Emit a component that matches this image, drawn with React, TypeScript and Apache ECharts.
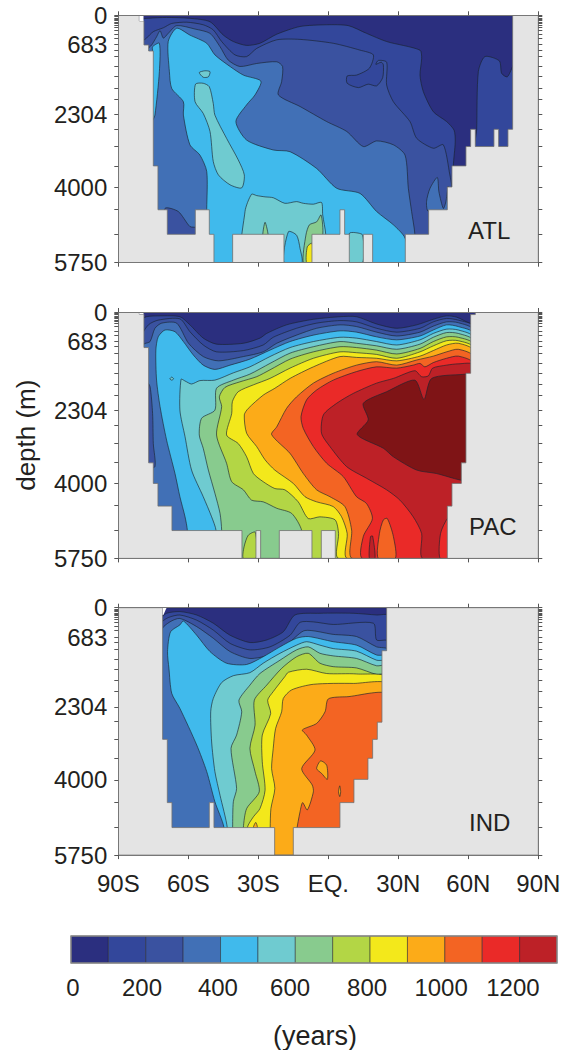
import React, { useEffect, useRef } from "react";
import * as echarts from "echarts";

type Pt = [number, number];

const LEVEL_COLORS = ["#2b2f7f", "#33479b", "#3a52a0", "#4170b6", "#40baec", "#6fcbd0", "#88cb8e", "#b3d645", "#f3e81b", "#fcab18", "#f36423", "#ea2a28", "#bd2127", "#7f1416"];
const COLORBAR_EDGES = [0, 100, 200, 300, 400, 500, 600, 700, 800, 900, 1000, 1100, 1200, 1300];
const COLORBAR_LABEL_ANCHORS = [5, 190, 393, 586, 792, 990, 1182];
const LAT_LABELS: Record<string, string> = { "-90": "90S", "-60": "60S", "-30": "30S", "0": "EQ.", "30": "30N", "60": "60N", "90": "90N" };
const DEPTH_LABELS = [0, 683, 2304, 4000, 5750];
const DEPTH_TICKS = [0, 31, 62, 93, 124, 155, 186, 225, 271, 341, 442, 535, 683, 806, 961, 1194, 1426, 1697, 1953, 2304, 2650, 3054, 3503, 4000, 4518, 5092, 5750];
const WHOLE: Pt[] = [[-90, 0], [90, 0], [90, 5750], [-90, 5750]];

// ---------- Atlantic ----------
const ATL_FLOOR: Pt[] = [[-90,0],[-81,0],[-81,130],[-79,130],[-79,690],[-77,690],[-77,830],[-75,830],[-75,3500],[-73,3500],[-73,4520],[-69,4520],[-69,5090],[-57,5090],[-57,4520],[-51,4520],[-51,5090],[-49,5090],[-49,5750],[-41,5750],[-41,5090],[-19,5090],[-19,5750],[-7,5750],[-7,5090],[5,5090],[5,4520],[7,4520],[7,5090],[9,5090],[9,5750],[15,5750],[15,5090],[19,5090],[19,5750],[33,5750],[33,5090],[43,5090],[43,4520],[51,4520],[51,3990],[53,3990],[53,3500],[59,3500],[59,3050],[61,3050],[61,2650],[63,2650],[63,3050],[71,3050],[71,2650],[73,2650],[73,3050],[77,3050],[77,2650],[79,2650],[79,0],[90,0],[90,5750],[-90,5750]];
const ATL_NOTCH: Pt[] = [[-81,0],[-79.2,0],[-79.2,130],[-81,130]];
const ATL_L1: Pt[] = [[-80,110],[-77.1,70],[-69.3,50],[-59.3,70],[-50.7,150],[-45,460],[-40.7,610],[-35,700],[-29.3,650],[-22.1,440],[-12.1,260],[-0.7,220],[8.6,240],[16.4,420],[25,610],[39.3,810],[40,1000],[39.3,1390],[40.7,1770],[45,2240],[50.7,2470],[53.9,2670],[54.4,2940],[53.6,3500],[53.6,5750],[-80,5750]];
const ATL_L1_NORTH: Pt[] = [[63.3,3170],[63.6,2650],[64.3,1310],[67.1,960],[73.3,1060],[74.3,1350],[76.7,1430],[79,1190],[80,1080],[80,3170]];
const ATL_L2: Pt[] = [[-80.7,670],[-77.9,530],[-75,380],[-70.7,290],[-67.1,190],[-60.7,160],[-53.6,220],[-49.3,340],[-45.7,610],[-40,920],[-35,960],[-30.7,770],[-22.1,570],[-12.1,560],[2.1,650],[13.6,810],[19.3,920],[17.6,1230],[12.1,1390],[8.1,1410],[8.1,1580],[12.9,1680],[17.1,1600],[20.7,1640],[23.3,1450],[23.6,1150],[22.7,1090],[20.4,1140],[21.4,1050],[25,1090],[25,1620],[27.9,2010],[35,2470],[37.9,2860],[45,3090],[49.3,3010],[52.1,3710],[52.9,3980],[52.1,4560],[52.1,5750],[-80.7,5750]];
const ATL_L3: Pt[] = [[-77.9,830],[-75.7,690],[-73.6,500],[-72.1,360],[-70.7,530],[-68.6,420],[-65,240],[-57.1,320],[-50.7,420],[-46.4,730],[-42.9,1040],[-37.9,1190],[-30.7,1120],[-22.1,1080],[-19.6,1190],[-20,1540],[-21.4,1850],[-12.1,2120],[-0.7,2470],[7.9,2700],[15,3050],[20.7,2920],[27.9,3010],[32.9,3250],[34.3,4020],[35.7,4560],[37.1,5090],[37.1,5750],[-77.9,5750]];
const ATL_L2_SW: Pt[] = [[-70,4490],[-64.3,4560],[-59.3,4910],[-56.4,4940],[-56.4,5180],[-70,5180]];
const ATL_L3_NE: Pt[] = [[42.1,4330],[43.6,4020],[46.7,3770],[47.4,4100],[49.3,4490],[50.4,4330],[51.4,3980],[52.1,4560],[42.9,4560]];
const ATL_L4_WEST: Pt[] = [[-75.3,830],[-75.3,730],[-72.4,650],[-72.4,1310],[-74.3,2320],[-75.3,2430]];
const ATL_L4: Pt[] = [[-68.6,610],[-65,300],[-59.3,460],[-52.1,650],[-48.6,920],[-42.1,1190],[-36.4,1390],[-28.9,1530],[-31.4,1850],[-35,2080],[-39.6,2470],[-35,2900],[-23.6,3130],[-16.4,3170],[-5,3560],[3.6,4020],[13.6,4140],[20.7,4560],[27.9,4870],[32.9,5180],[33.6,5750],[-52.4,5750],[-52.1,4490],[-52.1,3630],[-55,3250],[-59.3,3010],[-62.1,2320],[-62.1,2010],[-67.1,1700],[-68.1,1310]];
const ATL_L5_A: Pt[] = [[-55.3,1330],[-52.9,1290],[-50.7,1310],[-51.4,1430],[-53.6,1440]];
const ATL_L5_B: Pt[] = [[-56.9,1600],[-53.6,1580],[-51,1660],[-49.3,2050],[-48.6,2320],[-43.6,2860],[-38.6,3360],[-36,3710],[-37.1,4010],[-42.1,3940],[-47.1,3710],[-49.3,3400],[-50.7,2700],[-53.6,2280],[-57.1,2010]];
const ATL_L5_C: Pt[] = [[-36,5750],[-35.7,4560],[-32.9,4160],[-30.7,4190],[-27.1,4220],[-23.6,4240],[-18.6,4370],[-13.6,4330],[-10.7,4370],[-6.4,4390],[-2.9,4350],[-2.4,4640],[-1.1,5090],[-1.1,5750]];
const ATL_L5_D: Pt[] = [[9,5750],[9,5070],[11.4,5050],[14.7,5110],[14.7,5750]];
const ATL_L4_DEEP: Pt[] = [[-19,5750],[-17.1,5030],[-13.6,5110],[-12.1,5420],[-11.4,5750]];
const ATL_L6_A: Pt[] = [[-28.1,5180],[-27.1,4810],[-25.7,5180]];
const ATL_L6_B: Pt[] = [[-10.7,5750],[-9.6,5110],[-8.1,4870],[-5,4800],[-3.1,4640],[-2.4,5110],[-6.4,5750]];
const ATL_L8: Pt[] = [[-9.3,5750],[-9,5380],[-7,5300],[-6.4,5750]];

// ---------- Pacific ----------
const PAC_FLOOR: Pt[] = [[-90,0],[-81,0],[-81,50],[-79,50],[-79,830],[-77,830],[-77,3520],[-75,3520],[-75,4000],[-73,4000],[-73,4530],[-67,4530],[-67,5100],[-37,5100],[-37,5750],[-31,5750],[-31,5100],[-29,5100],[-29,5750],[-21,5750],[-21,5100],[-7,5100],[-7,5750],[-3,5750],[-3,5100],[3,5100],[3,5750],[51,5750],[51,4530],[53,4530],[53,4000],[57,4000],[57,3520],[59,3520],[59,1430],[61,1430],[61,60],[63,60],[63,0],[90,0],[90,5750],[-90,5750]];
const PAC_NOTCH: Pt[] = [[-81,0],[-79.2,0],[-79.2,50],[-81,50]];
const PAC_L1: Pt[] = [[-80,190],[-77.9,110],[-72.1,90],[-63.6,110],[-59.3,300],[-53.6,610],[-47.9,750],[-36.4,730],[-29.3,610],[-26.4,500],[-17.9,300],[-6.4,170],[5,110],[12.1,110],[20.7,280],[29.3,380],[37.9,300],[45,170],[50.7,90],[55,120],[60.4,260],[62.1,300],[62.1,5750],[-80,5750]];
const PAC_L2: Pt[] = [[-80,580],[-77.1,300],[-72.9,190],[-63.6,160],[-59.3,460],[-53.6,770],[-47.9,930],[-36.4,900],[-27.9,770],[-23.6,590],[-13.6,380],[-5,260],[5,200],[12.1,230],[20.7,380],[29.3,470],[39.3,380],[45,230],[50.7,150],[55.7,190],[62.1,340],[62.1,5750],[-80,5750]];
const PAC_L3: Pt[] = [[-79.3,770],[-76.4,690],[-74.3,380],[-71.4,260],[-65,260],[-59.9,730],[-53.6,1040],[-47.1,1140],[-36.4,1040],[-27.9,930],[-22.1,730],[-13.6,540],[-5,380],[5,300],[12.1,340],[20.7,470],[29.3,560],[39.3,470],[45,330],[50.7,230],[55.7,250],[62.1,420],[62.1,5750],[-79.3,5750]];
const PAC_L2_WEST: Pt[] = [[-77.9,1630],[-76.4,1740],[-75.3,2370],[-75,3070],[-74.3,3610],[-77.9,3610]];
const PAC_L4: Pt[] = [[-73.9,890],[-72.9,580],[-70,420],[-65.7,460],[-62.1,690],[-57.9,1000],[-53.6,1240],[-48.6,1340],[-42.1,1240],[-33.6,1100],[-25,890],[-16.4,690],[-6.4,540],[5,440],[12.1,470],[20.7,580],[29.3,650],[39.3,560],[45,420],[50.7,300],[55.7,340],[62.1,500],[62.1,5750],[-60.4,5750],[-60.4,5100],[-61.4,4780],[-63.6,4310],[-65.7,3770],[-69.3,2990],[-72.1,2210],[-73.6,1590]];
const PAC_L5: Pt[] = [[-63.1,1570],[-61.4,1610],[-58.6,1680],[-55,1600],[-48.6,1590],[-40.7,1420],[-33.6,1280],[-25,1040],[-16.4,830],[-6.4,690],[5,590],[12.1,610],[20.7,690],[29.3,770],[39.3,650],[45,500],[50.7,400],[55.7,420],[62.1,590],[62.1,5750],[-48.1,5750],[-48.1,5100],[-50,4780],[-53.6,4310],[-58.6,3690],[-61.4,2910],[-63.6,2290]];
const PAC_L6: Pt[] = [[-45.7,5750],[-45.7,5100],[-46.4,4700],[-48.6,4230],[-51.4,3690],[-53.6,3180],[-55.3,2870],[-54.3,2480],[-48.6,2290],[-47.9,1780],[-40.7,1590],[-33.6,1450],[-25,1200],[-16.4,960],[-6.4,810],[5,690],[12.1,730],[20.7,790],[29.3,870],[39.3,750],[45,590],[50.7,480],[55.7,500],[62.1,670],[62.1,5750]];
const PAC_L7: Pt[] = [[-11.4,5750],[-11.4,5100],[-15.7,4700],[-22.1,4580],[-27.9,4430],[-32.9,4390],[-36.4,4150],[-41.4,3960],[-43.6,3530],[-47.9,2870],[-45.7,2210],[-46.7,1980],[-44.3,1760],[-37.9,1630],[-30.7,1510],[-25,1350],[-16.4,1100],[-6.4,930],[5,810],[12.1,830],[20.7,890],[29.3,980],[39.3,850],[45,690],[50.7,580],[55.7,590],[62.1,750],[62.1,5750]];
const PAC_L7_DEEP: Pt[] = [[-36.4,5750],[-36.1,5480],[-34.3,5210],[-31.3,5140],[-31,5750]];
const PAC_L8: Pt[] = [[4.4,5750],[4.4,5170],[2.9,4850],[-3.6,4780],[-8.6,4820],[-12.9,4430],[-18.6,4150],[-22.9,4120],[-27.9,3960],[-32.1,3770],[-35,3380],[-38.6,3070],[-43.6,2870],[-41.4,2370],[-41.1,2090],[-38.6,1860],[-32.1,1700],[-25,1550],[-16.4,1310],[-6.4,1080],[5,930],[12.1,950],[20.7,990],[29.3,1080],[39.3,930],[45,790],[50.7,670],[55.7,670],[62.1,830],[62.1,5750]];
const PAC_L9: Pt[] = [[8.1,5750],[8.1,5170],[5.7,4780],[2.1,4540],[-5,4430],[-10,4310],[-15,4000],[-22.9,3690],[-27.1,3450],[-30.7,3140],[-35,2830],[-36,2400],[-34.3,2250],[-27.9,1940],[-22.9,1780],[-16.4,1550],[-6.4,1280],[5,1040],[12.1,1060],[20.7,1080],[29.3,1140],[39.3,1030],[45,900],[50.7,770],[55.7,730],[62.1,900],[62.1,5750]];
const PAC_L10: Pt[] = [[10.3,5750],[10,5090],[7.1,4540],[0.7,4310],[-5,4150],[-10.7,3770],[-16.4,3300],[-24.3,2860],[-22.1,2680],[-17.9,2250],[-13.6,1980],[-6.4,1660],[2.1,1430],[12.1,1240],[20.7,1160],[29.3,1240],[37.9,1120],[45,1030],[50.7,930],[55.7,870],[62.1,1040],[62.1,5750]];
const PAC_L11: Pt[] = [[14.7,5750],[15,5240],[18.9,4820],[16.4,4470],[12.1,4310],[6.4,3840],[-0.7,3530],[-6.4,3140],[-10.7,2720],[-11.7,2440],[-9.3,2050],[-5,1820],[2.1,1590],[12.1,1390],[20.7,1280],[29.3,1310],[36.4,1240],[39.3,1200],[41.4,1280],[45,1180],[50.7,1080],[55.7,1030],[62.1,1200],[62.1,5750]];
const PAC_L10_DEEP: Pt[] = [[21.4,5750],[21.9,5170],[23.6,4850],[25.3,4820],[27.9,5240],[28.7,5750]];
const PAC_L12_DEEP: Pt[] = [[17.6,5750],[18.1,5240],[19,5230],[20,5750]];
const PAC_L12: Pt[] = [[40.4,5750],[40,5170],[36.4,4780],[30.7,4390],[25,4150],[16.4,3880],[7.9,3610],[0.7,3140],[-2.9,2830],[-2.1,2400],[3.6,2130],[10.7,1900],[20.7,1660],[27.9,1550],[37.1,1370],[40,1510],[42.9,1490],[44.7,1310],[50.7,1240],[55.7,1210],[62.1,1240],[62.1,5750]];
const PAC_L11_EAST: Pt[] = [[47.9,5750],[48.1,5170],[51,4820],[52.9,4780],[52.9,5750]];
const PAC_L13: Pt[] = [[12.4,2860],[17.1,2520],[15,2130],[25,1860],[37.1,1590],[41,2040],[44.3,1550],[59,1450],[60,1450],[60,3920],[56.4,3920],[46.4,3770],[37.9,3690],[27.9,3380],[23.6,3180]];
const PAC_L5_DOT: Pt[] = [[-67.9,1560],[-67.1,1520],[-66.3,1560],[-67.1,1590]];

// ---------- Indian ----------
const IND_FLOOR: Pt[] = [[-90,0],[-71,0],[-71,3060],[-69,3060],[-69,4530],[-67,4530],[-67,5110],[-51,5110],[-51,4530],[-49,4530],[-49,5110],[-23,5110],[-23,5750],[-15,5750],[-15,5110],[5,5110],[5,4530],[11,4530],[11,3990],[17,3990],[17,3500],[19,3500],[19,3060],[21,3060],[21,2660],[23,2660],[23,1000],[25,1000],[25,0],[90,0],[90,5750],[-90,5750]];
const IND_NOTCH: Pt[] = [[-71,0],[-69.3,0],[-70.7,170],[-71,170]];
const IND_L1: Pt[] = [[-71.4,250],[-69.3,130],[-63.6,90],[-56.4,170],[-49.3,360],[-42.1,640],[-33.6,810],[-26.4,750],[-19.3,560],[-14.3,170],[-3.6,130],[10.7,130],[20.7,170],[25.7,190],[25.7,5750],[-71.4,5750]];
const IND_L2: Pt[] = [[-71.4,360],[-68.6,230],[-63.6,170],[-56.4,290],[-49.3,520],[-42.1,830],[-33.6,980],[-25,910],[-16.4,640],[-12.1,340],[-6.4,330],[2.1,390],[19.3,360],[20.7,750],[25.7,780],[25.7,5750],[-71.4,5750]];
const IND_L3: Pt[] = [[-71.4,520],[-67.9,330],[-63.6,250],[-56.4,440],[-49.3,710],[-42.1,1020],[-33.6,1180],[-25,1090],[-16.4,790],[-10,530],[2.1,620],[12.1,670],[20.7,910],[25.7,980],[25.7,5750],[-71.4,5750]];
const IND_L4: Pt[] = [[-44.7,5750],[-44.7,5110],[-48.6,4510],[-52.1,3810],[-56.4,3190],[-63.6,2340],[-67.1,1990],[-68.3,1410],[-68.9,1020],[-67.6,560],[-63.6,400],[-62.1,310],[-56.4,640],[-50.7,1020],[-43.6,1290],[-35,1320],[-27.9,1140],[-20.7,910],[-13.6,710],[-8.6,670],[2.1,790],[12.1,870],[20.7,1100],[26.4,1140],[26.4,5750]];
const IND_L5: Pt[] = [[-43.3,5750],[-43.3,5110],[-46.4,4360],[-48.6,3810],[-50,3120],[-50.4,2420],[-49.3,2110],[-45.7,1740],[-40.7,1580],[-33.6,1510],[-27.9,1290],[-20.7,1060],[-13.6,870],[-9.3,790],[-3.6,870],[2.1,950],[12.1,1010],[20.7,1220],[26.4,1260],[26.4,5750]];
const IND_L6: Pt[] = [[-41,5750],[-41,5110],[-40.7,4510],[-39.3,4200],[-41.7,3270],[-39.3,2960],[-37.1,2420],[-38.3,2150],[-33.6,1800],[-29.3,1530],[-20.7,1220],[-13.6,980],[-8.6,910],[-3.6,1060],[2.1,1120],[12.1,1180],[20.7,1350],[26.4,1350],[26.4,5750]];
const IND_L7: Pt[] = [[-36.4,5750],[-36.4,5110],[-35,4670],[-29.6,4280],[-31.4,3810],[-33.6,3270],[-31.4,2730],[-31.7,2150],[-26.4,1800],[-20,1410],[-13.6,1140],[-8.6,1060],[-3.6,1290],[2.1,1370],[12.1,1400],[20.7,1550],[26.4,1550],[26.4,5750]];
const IND_L8: Pt[] = [[-34.7,5750],[-34.7,5110],[-32.1,4860],[-29.3,4670],[-27.1,4240],[-28.3,3580],[-28.3,2960],[-24.7,2460],[-26,2150],[-23.6,1950],[-18.6,1600],[-17.1,1500],[-9.3,1430],[-0.7,1530],[12.1,1540],[26.4,1660],[26.4,5750]];
const IND_L9: Pt[] = [[-25,5750],[-24.9,5110],[-24.6,4670],[-22.9,4200],[-24.3,3740],[-23.6,3270],[-22.6,2810],[-20,2420],[-19.3,2110],[-15.7,1910],[-6.4,1780],[10.7,1760],[26.4,1810],[26.4,5750]];
const IND_L9_SPECK: Pt[] = [[-32.1,5110],[-31.1,4990],[-30.4,5110]];
const IND_L10: Pt[] = [[-13.6,5750],[-13.6,5210],[-12.1,4740],[-11,4530],[-9,4700],[-6.4,4280],[-6.9,4120],[-11.4,3740],[-5.7,3310],[-9.3,2960],[-11.1,2840],[-5,2690],[-1.4,2420],[0,2120],[7.9,2070],[26.4,2050],[26.4,5750]];
const IND_L9_ISLE_A: Pt[] = [[-5,3740],[-3.3,3560],[-0.7,3660],[-0.4,3990],[-2.9,3850]];
const IND_L9_ISLE_B: Pt[] = [[4.4,4280],[4.9,4140],[5.3,4280],[4.9,4390]];

type Layer = [number, Pt[]];
const ATL_LAYERS: Layer[] = [[0, WHOLE], [1, ATL_L1], [1, ATL_L1_NORTH], [2, ATL_L2], [3, ATL_L3], [2, ATL_L2_SW], [3, ATL_L3_NE], [4, ATL_L4_WEST], [4, ATL_L4], [5, ATL_L5_A], [5, ATL_L5_B], [5, ATL_L5_C], [5, ATL_L5_D], [4, ATL_L4_DEEP], [6, ATL_L6_A], [6, ATL_L6_B], [8, ATL_L8]];
const PAC_LAYERS: Layer[] = [[0, WHOLE], [1, PAC_L1], [2, PAC_L2], [3, PAC_L3], [2, PAC_L2_WEST], [4, PAC_L4], [5, PAC_L5], [6, PAC_L6], [7, PAC_L7], [7, PAC_L7_DEEP], [8, PAC_L8], [9, PAC_L9], [10, PAC_L10], [11, PAC_L11], [10, PAC_L10_DEEP], [12, PAC_L12_DEEP], [12, PAC_L12], [11, PAC_L11_EAST], [13, PAC_L13], [5, PAC_L5_DOT]];
const IND_LAYERS: Layer[] = [[0, WHOLE], [1, IND_L1], [2, IND_L2], [3, IND_L3], [4, IND_L4], [5, IND_L5], [6, IND_L6], [7, IND_L7], [8, IND_L8], [9, IND_L9], [9, IND_L9_SPECK], [10, IND_L10], [9, IND_L9_ISLE_A], [9, IND_L9_ISLE_B]];

const FONT = "'Liberation Sans', Arial, sans-serif";
const TEXT = "#231f20";
const FRAME = "#777777";
const CONTOUR = "rgba(25,35,45,0.8)";
const LAND = "#e4e4e4";

const PANELS = [
  { top: 15.3, height: 247.4, layers: ATL_LAYERS, floor: ATL_FLOOR, notch: ATL_NOTCH },
  { top: 312, height: 246.4, layers: PAC_LAYERS, floor: PAC_FLOOR, notch: PAC_NOTCH },
  { top: 607.7, height: 247.4, layers: IND_LAYERS, floor: IND_FLOOR, notch: IND_NOTCH },
];

function buildOption() {
  const grid: any[] = [];
  const xAxis: any[] = [];
  const yAxis: any[] = [];
  const series: any[] = [];

  PANELS.forEach((p, i) => {
    grid.push({ left: 118.3, width: 420, top: p.top, height: p.height });
    const xBase = {
      type: "value", gridIndex: i, min: -90, max: 90, interval: 30, z: 10, silent: true,
      splitLine: { show: false }, axisLine: { show: true, onZero: false, lineStyle: { color: FRAME, width: 1 } },
      axisTick: { show: true, length: 4, lineStyle: { color: "#555", width: 1 } },
    };
    xAxis.push({
      ...xBase, position: "bottom",
      axisLabel: {
        show: i === 2, margin: 16, fontSize: 24, fontFamily: FONT, color: TEXT, showMinLabel: true, showMaxLabel: true,
        formatter: (v: number) => LAT_LABELS[String(v)] ?? "",
      },
    });
    xAxis.push({ ...xBase, position: "top", axisLabel: { show: false } });
    const yBase = {
      type: "value", gridIndex: i, min: 0, max: 5750, inverse: true, z: 10, silent: true,
      splitLine: { show: false }, axisLine: { show: true, onZero: false, lineStyle: { color: FRAME, width: 1 } },
      axisTick: { show: true, length: 4, customValues: DEPTH_TICKS, lineStyle: { color: "#555", width: 1 } },
    };
    yAxis.push({
      ...yBase, position: "left",
      ...(i === 1
        ? { name: "depth (m)", nameLocation: "middle", nameRotate: 90, nameGap: 79, nameTextStyle: { fontSize: 26, fontFamily: FONT, color: TEXT } }
        : {}),
      axisLabel: { show: true, margin: 11, fontSize: 24, fontFamily: FONT, color: TEXT, customValues: DEPTH_LABELS, formatter: (v: number) => String(v) },
    });
    yAxis.push({ ...yBase, position: "right", axisLabel: { show: false } });

    const items: { pts: Pt[]; fill: string; stroke: string; width: number; smooth: number }[] = [
      ...p.layers.map(([lvl, pts]) => ({ pts, fill: LEVEL_COLORS[lvl], stroke: CONTOUR, width: 0.8, smooth: pts === WHOLE ? 0 : 0.25 })),
      { pts: p.floor, fill: LAND, stroke: "#707070", width: 0.8, smooth: 0 },
      { pts: p.notch, fill: "#ffffff", stroke: "#ffffff", width: 0, smooth: 0 },
    ];
    series.push({
      type: "custom", coordinateSystem: "cartesian2d", xAxisIndex: i * 2, yAxisIndex: i * 2, silent: true, clip: true,
      data: items.map((it) => it.pts[0]),
      renderItem: (params: any, api: any) => {
        const it = items[params.dataIndex];
        return {
          type: "polygon",
          shape: { points: it.pts.map((pt) => api.coord(pt)), smooth: it.smooth },
          style: { fill: it.fill, stroke: it.stroke, lineWidth: it.width, lineJoin: "round" },
        };
      },
    });
  });

  // colour bar
  grid.push({ left: 71, width: 486, top: 936, height: 27 });
  xAxis.push({
    type: "value", gridIndex: 3, min: 0, max: 1300, silent: true, splitLine: { show: false },
    axisLine: { show: false }, axisTick: { show: false },
    axisLabel: {
      margin: 12, fontSize: 24, fontFamily: FONT, color: TEXT, customValues: COLORBAR_LABEL_ANCHORS,
      formatter: (v: number) => String(Math.round(v / 200) * 200),
    },
  });
  yAxis.push({ type: "value", gridIndex: 3, min: 0, max: 1, show: false });
  const barData = COLORBAR_EDGES.slice(0, -1).map((lo, i) => [lo, COLORBAR_EDGES[i + 1], i]);
  series.push({
    type: "custom", coordinateSystem: "cartesian2d", xAxisIndex: 6, yAxisIndex: 6, silent: true,
    data: barData, encode: { x: [0, 1] },
    renderItem: (params: any, api: any) => {
      const a = api.coord([api.value(0), 1]);
      const b = api.coord([api.value(1), 0]);
      return {
        type: "rect",
        shape: { x: a[0], y: a[1], width: b[0] - a[0], height: b[1] - a[1] },
        style: { fill: LEVEL_COLORS[api.value(2)], stroke: "rgba(30,30,40,0.55)", lineWidth: 0.9 },
      };
    },
  });
  series.push({
    type: "custom", coordinateSystem: "cartesian2d", xAxisIndex: 6, yAxisIndex: 6, silent: true,
    data: [[0, 1300]], encode: { x: [0, 1] },
    renderItem: (params: any, api: any) => {
      const a = api.coord([api.value(0), 1]);
      const b = api.coord([api.value(1), 0]);
      return {
        type: "rect",
        shape: { x: a[0], y: a[1], width: b[0] - a[0], height: b[1] - a[1] },
        style: { fill: "none", stroke: "#8a8a8a", lineWidth: 1.4 },
      };
    },
  });

  const label = (text: string, x: number, y: number, size = 24, align = "left") => ({
    type: "text", x, y, z: 20, style: { text, fontSize: size, fontFamily: FONT, fill: TEXT, textAlign: align, textVerticalAlign: "middle" },
  });

  return {
    animation: false,
    backgroundColor: "#ffffff",
    grid, xAxis, yAxis, series,
    graphic: [label("ATL", 468, 230), label("PAC", 469, 526), label("IND", 469, 822), label("(years)", 315, 1036, 27, "center")],
  };
}

export default function App() {
  const ref = useRef<HTMLDivElement>(null);
  useEffect(() => {
    const chart = echarts.init(ref.current!, undefined, { renderer: "svg" });
    chart.setOption(buildOption() as any);
    return () => chart.dispose();
  }, []);
  return <div ref={ref} style={{ position: "absolute", left: 0, top: 0, width: 565, height: 1050 }} />;
}
